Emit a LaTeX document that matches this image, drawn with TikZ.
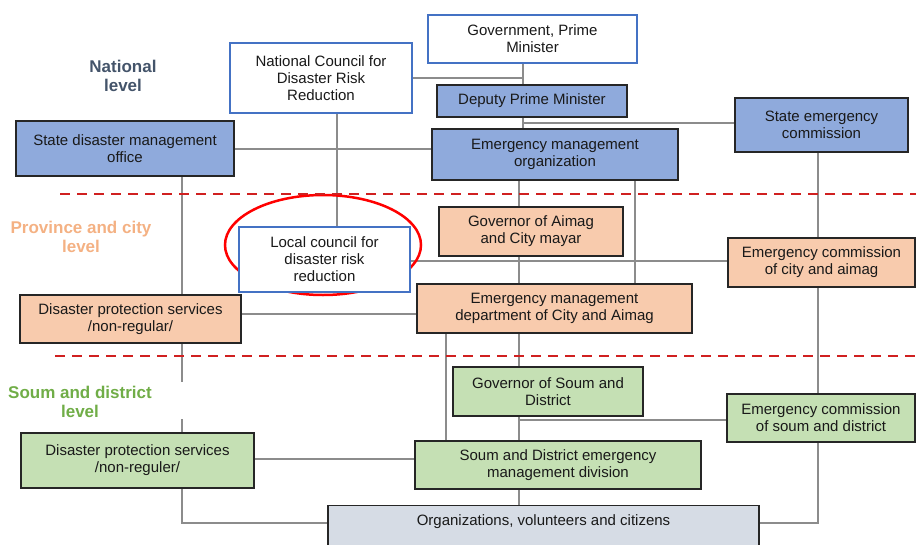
\documentclass[tikz,border=0pt]{standalone}
\usepackage{fontspec}
\setmainfont{Liberation Sans}
\usetikzlibrary{backgrounds}
\definecolor{cBlueLine}{HTML}{4472C4}
\definecolor{cNat}{HTML}{8FAADC}
\definecolor{cProv}{HTML}{F8CBAD}
\definecolor{cSoum}{HTML}{C5E0B4}
\definecolor{cOrg}{HTML}{D6DCE5}
\definecolor{cNatLab}{HTML}{44546A}
\definecolor{cProvLab}{HTML}{F4B183}
\definecolor{cSoumLab}{HTML}{70AD47}
\definecolor{cConn}{HTML}{8C8C8C}
\definecolor{cDash}{HTML}{D02020}
\begin{document}
\begin{tikzpicture}[x=1pt,y=-1pt,
  base/.style={draw, align=center, inner sep=2pt, font=\fontsize{15}{17}\selectfont, text=black!90},
  whitebox/.style={base, draw=cBlueLine, line width=2pt, fill=white},
  natbox/.style={base, draw=black!85, line width=1.2pt, fill=cNat},
  provbox/.style={base, draw=black!85, line width=1.2pt, fill=cProv},
  soumbox/.style={base, draw=black!85, line width=1.2pt, fill=cSoum},
  orgbox/.style={base, draw=black!85, line width=1.2pt, fill=cOrg},
  lvl/.style={align=center, font=\fontsize{17}{19}\selectfont\bfseries},
  conn/.style={draw=cConn, line width=1.5pt},
  sep/.style={draw=cDash, line width=2.5pt, dash pattern=on 10pt off 7pt},
]
\useasboundingbox (0,0) rectangle (916,544);

% level labels
\node[lvl, text=cNatLab] (natlab) at (123,76) {National\\level};
\node[lvl, text=cProvLab] (provlab) at (81,237) {Province and city\\level};
\node[lvl, text=cSoumLab] (soumlab) at (80,402) {Soum and district\\level};

% national level
\node[whitebox, minimum width=209, minimum height=48] (gov) at (532.5,39) {Government, Prime\\Minister};
\node[whitebox, minimum width=182, minimum height=70] (ncdrr) at (321,78) {National Council for\\Disaster Risk\\Reduction};
\node[natbox, minimum width=190, minimum height=32] (dpm) at (532,101) {Deputy Prime Minister};
\node[natbox, minimum width=246, minimum height=51] (emo) at (555,154.5) {Emergency management\\organization};
\node[natbox, minimum width=173, minimum height=54] (sec) at (821.5,125) {State emergency\\commission};
\node[natbox, minimum width=218, minimum height=55] (sdmo) at (125,148.5) {State disaster management\\office};

% province level
\node[whitebox, minimum width=171, minimum height=65] (lcdrr) at (324.5,259.5) {Local council for\\disaster risk\\reduction};
\node[provbox, minimum width=184, minimum height=49] (gova) at (531,231.5) {Governor of Aimag\\and City mayar};
\node[provbox, minimum width=187, minimum height=49] (ecca) at (821.5,262.5) {Emergency commission\\of city and aimag};
\node[provbox, minimum width=275, minimum height=49] (emd) at (554.5,308.5) {Emergency management\\department of City and Aimag};
\node[provbox, minimum width=221, minimum height=48] (dpso) at (130.5,319) {Disaster protection services\\/non-regular/};

% soum level
\node[soumbox, minimum width=190, minimum height=49] (govs) at (548,391.5) {Governor of Soum and\\District};
\node[soumbox, minimum width=188, minimum height=48] (ecsd) at (821,418) {Emergency commission\\of soum and district};
\node[soumbox, minimum width=286, minimum height=48] (sdemd) at (558,465) {Soum and District emergency\\management division};
\node[soumbox, minimum width=233, minimum height=55] (dpsg) at (137.5,460.5) {Disaster protection services\\/non-reguler/};

% organizations
\node[orgbox, anchor=north, minimum width=431, text height=14pt, text depth=30pt, inner ysep=6pt] (org) at (543.5,505) {Organizations, volunteers and citizens};

% helper coordinates
\coordinate (cA) at (523,0);
\coordinate (cB) at (337,0);
\coordinate (cC) at (182,0);
\coordinate (cD) at (519,0);
\coordinate (cE) at (635,0);
\coordinate (cF) at (818,0);
\coordinate (cG) at (446,0);
\coordinate (r123) at (0,123);
\coordinate (r149) at (0,149);
\coordinate (r261) at (0,261);
\coordinate (r314) at (0,314);
\coordinate (r420) at (0,420);
\coordinate (r459) at (0,459);
\coordinate (r523) at (0,523);
\coordinate (g1) at (0,382);
\coordinate (g2) at (0,419);

\begin{scope}[on background layer]
  % national
  \draw[conn] (gov.south -| cA) -- (dpm.north -| cA);
  \draw[conn] (ncdrr.east) -- (cA |- ncdrr.east);
  \draw[conn] (dpm.south -| cA) -- (emo.north -| cA);
  \draw[conn] (cA |- r123) -- (sec.west |- r123);
  \draw[conn] (sdmo.east |- r149) -- (emo.west |- r149);
  \draw[conn] (ncdrr.south -| cB) -- (lcdrr.north -| cB);
  % left column
  \draw[conn] (sdmo.south -| cC) -- (dpso.north -| cC);
  \draw[conn] (dpso.south -| cC) -- (cC |- g1);
  \draw[conn] (cC |- g2) -- (dpsg.north -| cC);
  \draw[conn] (dpsg.south -| cC) -- (cC |- r523) -- (org.west |- r523);
  % centre
  \draw[conn] (emo.south -| cD) -- (gova.north -| cD);
  \draw[conn] (emo.south -| cE) -- (emd.north -| cE);
  \draw[conn] (gova.south -| cD) -- (emd.north -| cD);
  \draw[conn] (lcdrr.east |- r261) -- (ecca.west |- r261);
  \draw[conn] (dpso.east |- r314) -- (emd.west |- r314);
  \draw[conn] (emd.south -| cD) -- (govs.north -| cD);
  \draw[conn] (emd.south -| cG) -- (sdemd.north -| cG);
  \draw[conn] (govs.south -| cD) -- (sdemd.north -| cD);
  \draw[conn] (cD |- r420) -- (ecsd.west |- r420);
  \draw[conn] (dpsg.east |- r459) -- (sdemd.west |- r459);
  \draw[conn] (sdemd.south -| cD) -- (org.north -| cD);
  % right column
  \draw[conn] (sec.south -| cF) -- (ecca.north -| cF);
  \draw[conn] (ecca.south -| cF) -- (ecsd.north -| cF);
  \draw[conn] (ecsd.south -| cF) -- (cF |- r523) -- (org.east |- r523);
  % highlight ellipse
  \draw[red, line width=2.5pt] (lcdrr.center) ++(-1.5,-14.5) ellipse [x radius=98, y radius=50];
\end{scope}

% level separators
\coordinate (s1a) at (60,194);
\coordinate (s1b) at (916,194);
\coordinate (s2a) at (55,356);
\coordinate (s2b) at (916,356);
\draw[sep] (s1a) -- (s1b);
\draw[sep] (s2a) -- (s2b);
\end{tikzpicture}
\end{document}
